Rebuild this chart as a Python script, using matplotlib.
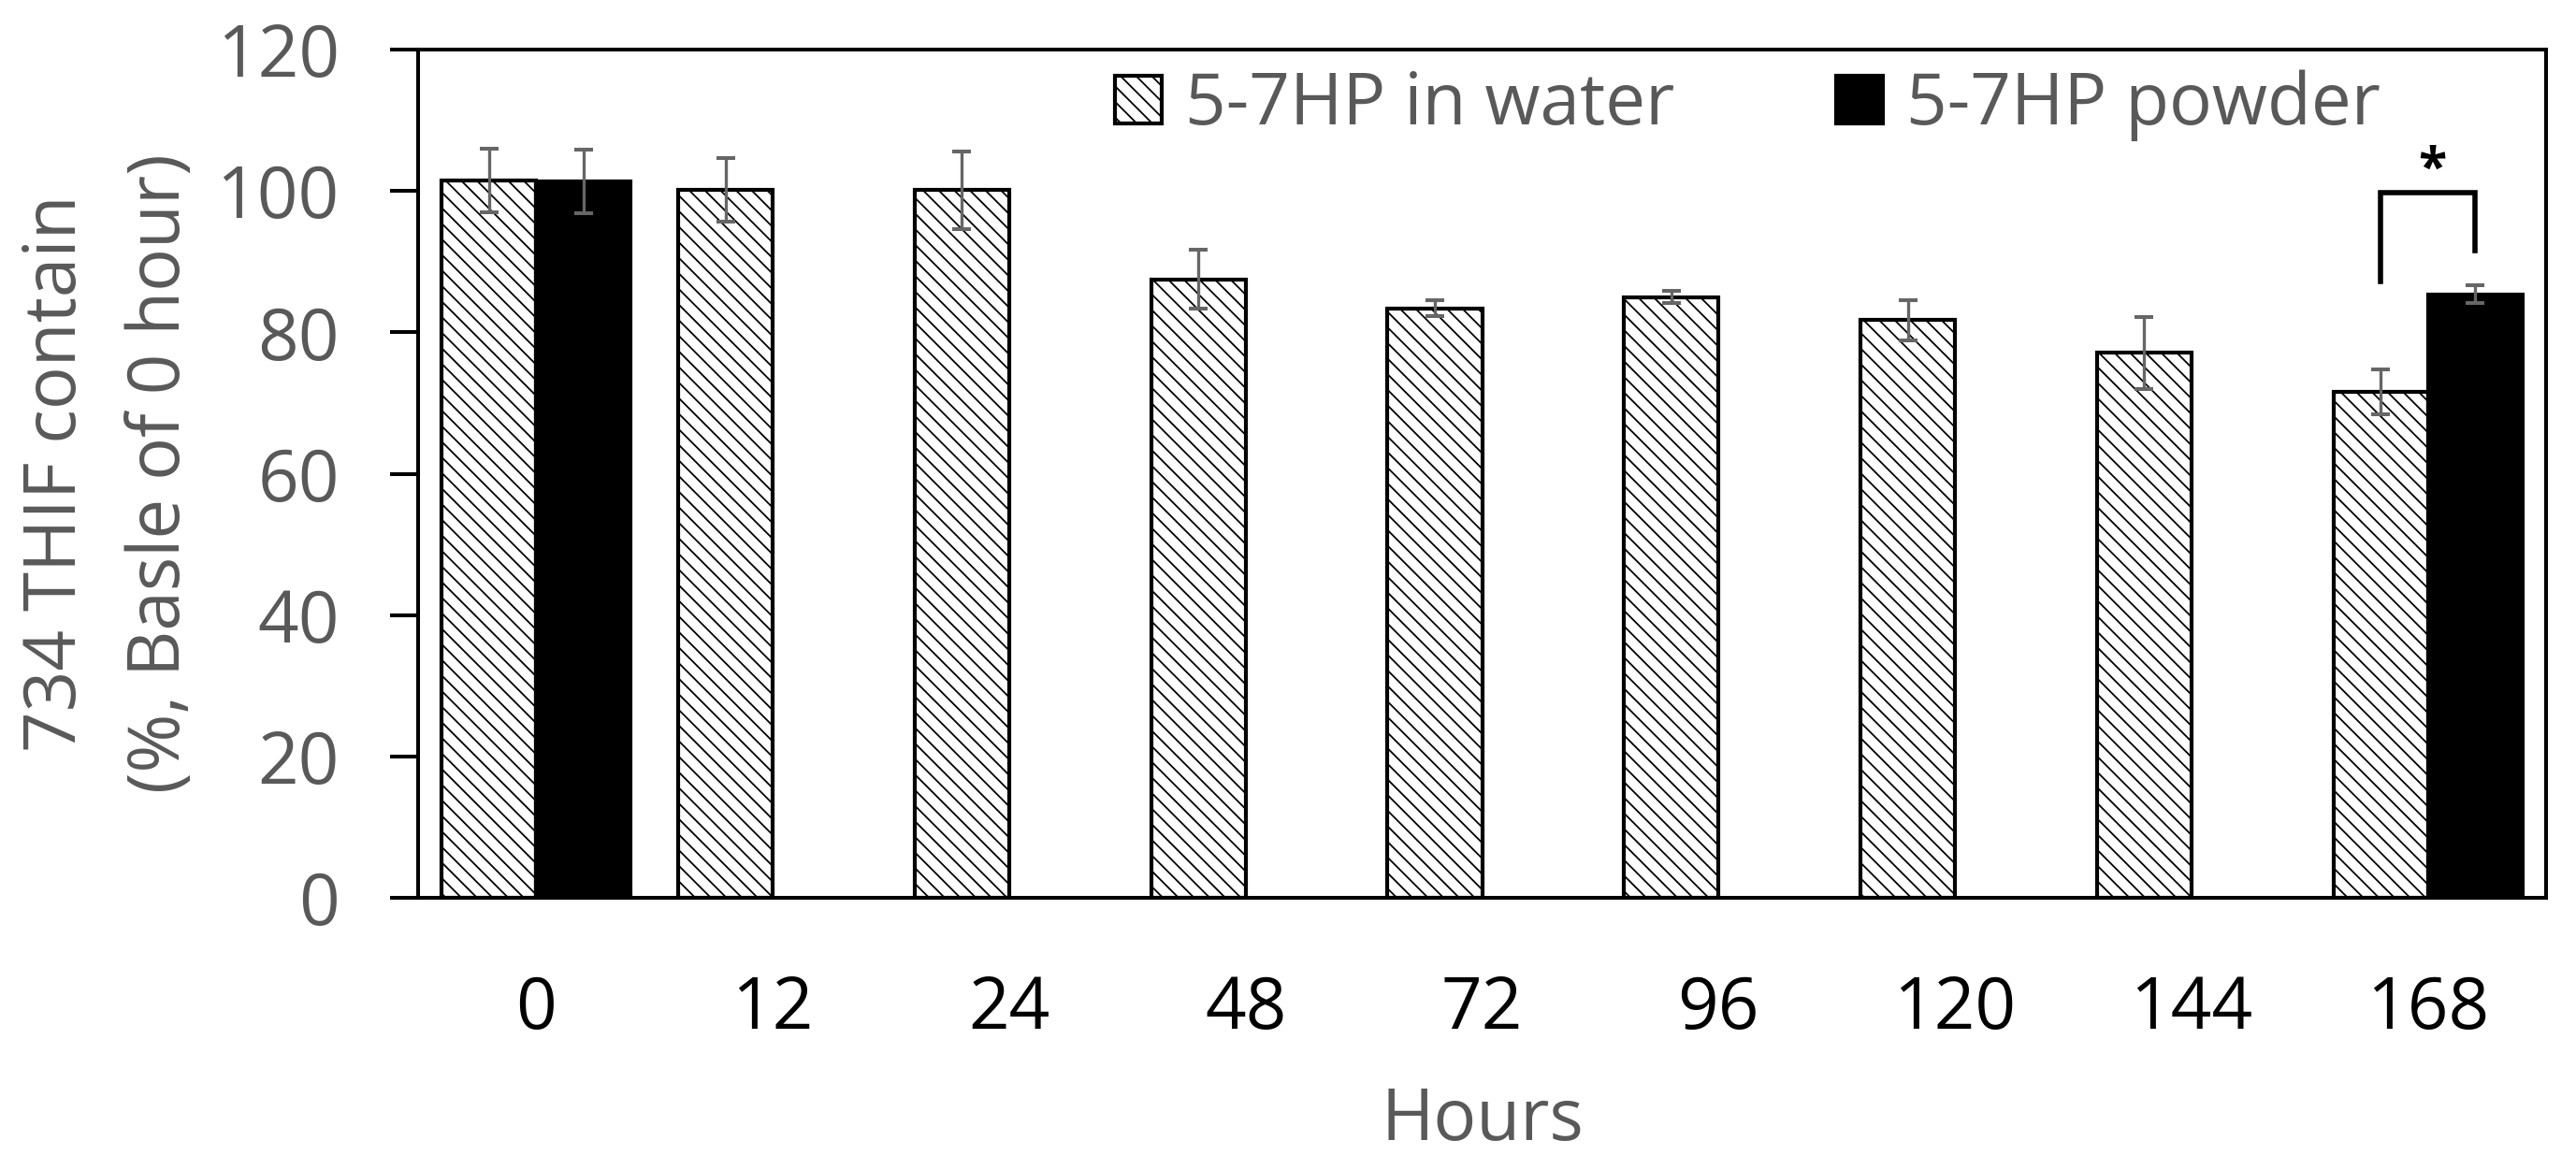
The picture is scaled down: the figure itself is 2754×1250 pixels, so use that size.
import numpy as np
import matplotlib
matplotlib.use("Agg")
import matplotlib.pyplot as plt

# data
hours = ["0", "12", "24", "48", "72", "96", "120", "144", "168"]
water_mean = [101.5, 100.1, 100.1, 87.5, 83.4, 85.0, 81.7, 77.1, 71.6]
water_err = [4.5, 4.5, 5.5, 4.2, 1.1, 0.9, 2.8, 5.1, 3.2]
powder_mean = [101.3, np.nan, np.nan, np.nan, np.nan, np.nan, np.nan, np.nan, 85.4]
powder_err = [4.5, np.nan, np.nan, np.nan, np.nan, np.nan, np.nan, np.nan, 1.2]

# significance bracket between the two 168 h bars
sig_top = 99.8
sig_left_bottom = 87.2
sig_right_bottom = 91.5

GRAY = "#595959"
FS = 55

plt.rcParams["font.family"] = ["Open Sans", "DejaVu Sans"]
plt.rcParams["hatch.linewidth"] = 1.3

fig = plt.figure(figsize=(27.54, 12.5), dpi=100)
ax = fig.add_axes([0.1623, 0.232, 0.8261, 0.7256])

x = np.arange(len(hours))
w = 0.40
pm = np.array(powder_mean)
pe = np.array(powder_err)
mask = ~np.isnan(pm)

ax.bar(x - w / 2, water_mean, w, color="white", edgecolor="black",
       hatch="\\\\", linewidth=3.0, label="5-7HP in water", zorder=2)
ax.bar(x[mask] + w / 2, pm[mask], w, color="black", edgecolor="black",
       linewidth=3.0, label="5-7HP powder", zorder=2)

ekw = dict(fmt="none", ecolor="#666666", elinewidth=2.4, capsize=7, capthick=2.9, zorder=3)
ax.errorbar(x - w / 2, water_mean, yerr=water_err, **ekw)
ax.errorbar(x[mask] + w / 2, pm[mask], yerr=pe[mask], **ekw)

# bracket + star
xl = x[-1] - w / 2
xr = x[-1] + w / 2
ax.plot([xl, xl, xr, xr], [sig_left_bottom, sig_top, sig_top, sig_right_bottom],
        color="black", linewidth=4.0, solid_joinstyle="miter", zorder=3)
ax.text(x[-1] + 0.02, sig_top + 1.2, "*", ha="center", va="baseline",
        fontsize=40, fontweight="bold", color="black")

ax.set_xlim(-0.5, len(hours) - 0.5)
ax.set_ylim(0, 120)
ax.set_yticks(np.arange(0, 121, 20))
ax.set_xticks(x)
ax.set_xticklabels(hours)

for s in ax.spines.values():
    s.set_linewidth(2.9)
    s.set_color("black")

ax.tick_params(axis="y", direction="out", length=21.6, width=2.9, pad=39,
               labelsize=FS, labelcolor=GRAY, color="black")
ax.tick_params(axis="x", length=0, pad=59, labelsize=FS, labelcolor="black")

ax.set_xlabel("Hours", fontsize=FS, color=GRAY, labelpad=30)
ax.set_ylabel("734 THIF contain\n(%, Basle of 0 hour)", fontsize=FS, color=GRAY,
              linespacing=1.6)
ax.yaxis.set_label_coords(-0.104, 0.5)

ax.legend(loc="upper left", bbox_to_anchor=(0.3275, 0.976), ncol=2, frameon=False,
          fontsize=FS, labelcolor=GRAY, handlelength=0.65, handleheight=0.65,
          handletextpad=0.33, columnspacing=2.26, borderpad=0, borderaxespad=0)

fig.savefig("out.png", dpi=100)
